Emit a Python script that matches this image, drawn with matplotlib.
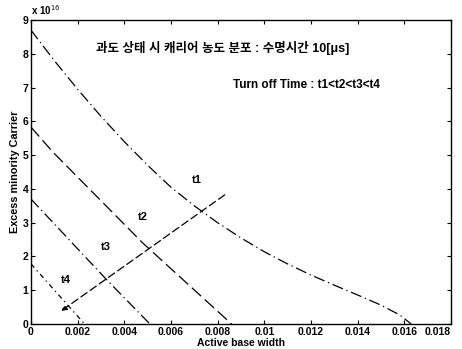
import matplotlib
matplotlib.use('Agg')
import matplotlib.pyplot as plt

plt.rcParams['font.family'] = ['Liberation Sans', 'Noto Sans CJK KR', 'DejaVu Sans']

# carrier profiles (units of 1e16), x = active base width
t1_x = [0, 0.001, 0.002, 0.003, 0.004, 0.005, 0.006, 0.007, 0.008, 0.009,
        0.010, 0.011, 0.012, 0.013, 0.014, 0.015, 0.0158, 0.0163]
t1_y = [8.7, 7.8, 6.95, 6.15, 5.4, 4.7, 4.05, 3.5, 3.0, 2.55,
        2.14, 1.78, 1.45, 1.15, 0.86, 0.56, 0.27, 0.0]
t2_x = [0, 0.00094, 0.00479, 0.0086]
t2_y = [5.83, 5.09, 2.4, 0.0]
t3_x = [0, 0.00326, 0.0051]
t3_y = [3.7, 1.30, 0.0]
t4_x = [0, 0.0023]
t4_y = [1.78, 0.0]

arrow_start = (0.0084, 3.87)
arrow_end = (0.0012, 0.34)

labels = ['t1', 't2', 't3', 't4']
label_x = [0.0071, 0.0048, 0.0032, 0.0015]
label_y = [4.26, 3.17, 2.28, 1.30]

xticks = [0, 0.002, 0.004, 0.006, 0.008, 0.01, 0.012, 0.014, 0.016, 0.018]
xtick_labels = ['0', '0.002', '0.004', '0.006', '0.008', '0.01', '0.012', '0.014', '0.016', '0.018']
yticks = list(range(10))

fig = plt.figure(figsize=(4.62, 3.49), dpi=100)
ax = fig.add_axes([0.067, 0.0716, 0.909, 0.871])

ax.plot(t1_x, t1_y, color='black', lw=0.9, linestyle=(0, (9, 3, 1, 3)))
ax.plot(t2_x, t2_y, color='black', lw=0.9, linestyle=(0, (10, 4)))
ax.plot(t3_x, t3_y, color='black', lw=0.9, linestyle=(0, (9, 3, 1, 3)))
ax.plot(t4_x, t4_y, color='black', lw=0.9, linestyle=(0, (4, 3, 1, 3)))

ax.annotate('', xy=arrow_end, xytext=arrow_start,
            arrowprops=dict(arrowstyle='-|>', color='black', lw=0.9,
                            linestyle=(0, (6, 3)), mutation_scale=8))

for lab, lx, ly in zip(labels, label_x, label_y):
    ax.text(lx, ly, lab, fontsize=8, fontweight='bold', ha='center', va='center')

ax.text(0.0082, 8.17, '과도 상태 시 캐리어 농도 분포 : 수명시간 10[μs]',
        fontsize=9, fontweight='bold', ha='center', va='center')
ax.text(0.0118, 7.07, 'Turn off Time : t1<t2<t3<t4',
        fontsize=8.5, fontweight='bold', ha='center', va='center')

ax.set_xlim(0, 0.018)
ax.set_ylim(0, 9)
ax.set_xticks(xticks)
ax.set_xticklabels(xtick_labels)
ax.set_yticks(yticks)
ax.tick_params(direction='in', top=True, right=True, labelsize=7.5, length=3, width=0.8, pad=2)
for t in ax.get_xticklabels() + ax.get_yticklabels():
    t.set_fontweight('bold')
# keep the last x label inside the figure
ax.get_xticklabels()[-1].set_horizontalalignment('right')
for s in ax.spines.values():
    s.set_linewidth(1.0)

ax.text(0.0, 1.01, 'x 10$^{16}$', transform=ax.transAxes, fontsize=7,
        fontweight='bold', ha='left', va='bottom')

ax.set_xlabel('Active base width', fontsize=7.5, fontweight='bold', labelpad=1)
ax.set_ylabel('Excess minority Carrier', fontsize=7.8, fontweight='bold', labelpad=2)

fig.savefig('out.png', dpi=100)
